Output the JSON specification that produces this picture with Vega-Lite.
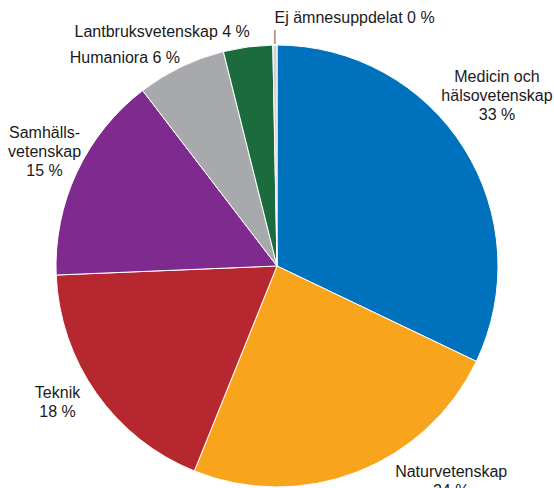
{
  "$schema": "https://vega.github.io/schema/vega-lite/v6.json",
  "width": 554,
  "height": 444,
  "autosize": {"type": "none"},
  "padding": {"top": 44, "left": 0, "right": 0, "bottom": 0},
  "background": "white",
  "config": {"view": {"stroke": null}, "text": {"font": "Liberation Sans", "fontSize": 16, "lineHeight": 19, "color": "#1a1a1a"}},
  "data": {"values": [
    {"idx": 1, "cat": "Medicin och hälsovetenskap", "value": 32.1, "label": "Medicin och\nhälsovetenskap\n33 %"},
    {"idx": 2, "cat": "Naturvetenskap", "value": 24.0, "label": "Naturvetenskap\n24 %"},
    {"idx": 3, "cat": "Teknik", "value": 18.25, "label": "Teknik\n18 %"},
    {"idx": 4, "cat": "Samhällsvetenskap", "value": 15.25, "label": "Samhälls-\nvetenskap\n15 %"},
    {"idx": 5, "cat": "Humaniora", "value": 6.5, "label": "Humaniora 6 %"},
    {"idx": 6, "cat": "Lantbruksvetenskap", "value": 3.6, "label": "Lantbruksvetenskap 4 %"},
    {"idx": 7, "cat": "Ej ämnesuppdelat", "value": 0.3, "label": "Ej ämnesuppdelat 0 %"}
  ]},
  "encoding": {
    "theta": {"field": "value", "type": "quantitative", "stack": true},
    "order": {"field": "idx", "type": "quantitative"}
  },
  "layer": [
    {
      "mark": {"type": "arc", "outerRadius": 221, "stroke": "white", "strokeWidth": 1},
      "encoding": {
        "color": {
          "field": "cat", "type": "nominal", "legend": null,
          "scale": {
            "domain": ["Medicin och hälsovetenskap", "Naturvetenskap", "Teknik", "Samhällsvetenskap", "Humaniora", "Lantbruksvetenskap", "Ej ämnesuppdelat"],
            "range": ["#0071BC", "#F8A51D", "#B7272F", "#7F2A8F", "#A8A9AD", "#1B6B3D", "#D3D3D3"]
          }
        }
      }
    },
    {
      "mark": {"type": "text", "radius": 229, "text": "|", "fontSize": 14, "fill": "#6e6e6e"},
      "encoding": {"opacity": {"condition": {"test": "datum.idx === 7", "value": 1}, "value": 0}}
    },
    {
      "mark": {"type": "text", "radius": 260, "align": "center", "baseline": "middle", "lineBreak": "\n", "dx": 0, "dy": -50},
      "encoding": {"text": {"condition": {"test": "datum.idx === 1", "field": "label"}, "value": ""}}
    },
    {
      "mark": {"type": "text", "radius": 260, "align": "center", "baseline": "middle", "lineBreak": "\n", "dx": 80, "dy": -36},
      "encoding": {"text": {"condition": {"test": "datum.idx === 2", "field": "label"}, "value": ""}}
    },
    {
      "mark": {"type": "text", "radius": 260, "align": "center", "baseline": "middle", "lineBreak": "\n", "dx": -7, "dy": -23},
      "encoding": {"text": {"condition": {"test": "datum.idx === 3", "field": "label"}, "value": ""}}
    },
    {
      "mark": {"type": "text", "radius": 260, "align": "center", "baseline": "middle", "lineBreak": "\n", "dx": 3, "dy": -23},
      "encoding": {"text": {"condition": {"test": "datum.idx === 4", "field": "label"}, "value": ""}}
    },
    {
      "mark": {"type": "text", "radius": 260, "align": "right", "baseline": "middle", "lineBreak": "\n", "dx": 16, "dy": 26},
      "encoding": {"text": {"condition": {"test": "datum.idx === 5", "field": "label"}, "value": ""}}
    },
    {
      "mark": {"type": "text", "radius": 260, "align": "right", "baseline": "middle", "lineBreak": "\n", "dx": 7, "dy": 24},
      "encoding": {"text": {"condition": {"test": "datum.idx === 6", "field": "label"}, "value": ""}}
    },
    {
      "mark": {"type": "text", "radius": 260, "align": "left", "baseline": "middle", "lineBreak": "\n", "dx": 0, "dy": 12},
      "encoding": {"text": {"condition": {"test": "datum.idx === 7", "field": "label"}, "value": ""}}
    }
  ]
}
